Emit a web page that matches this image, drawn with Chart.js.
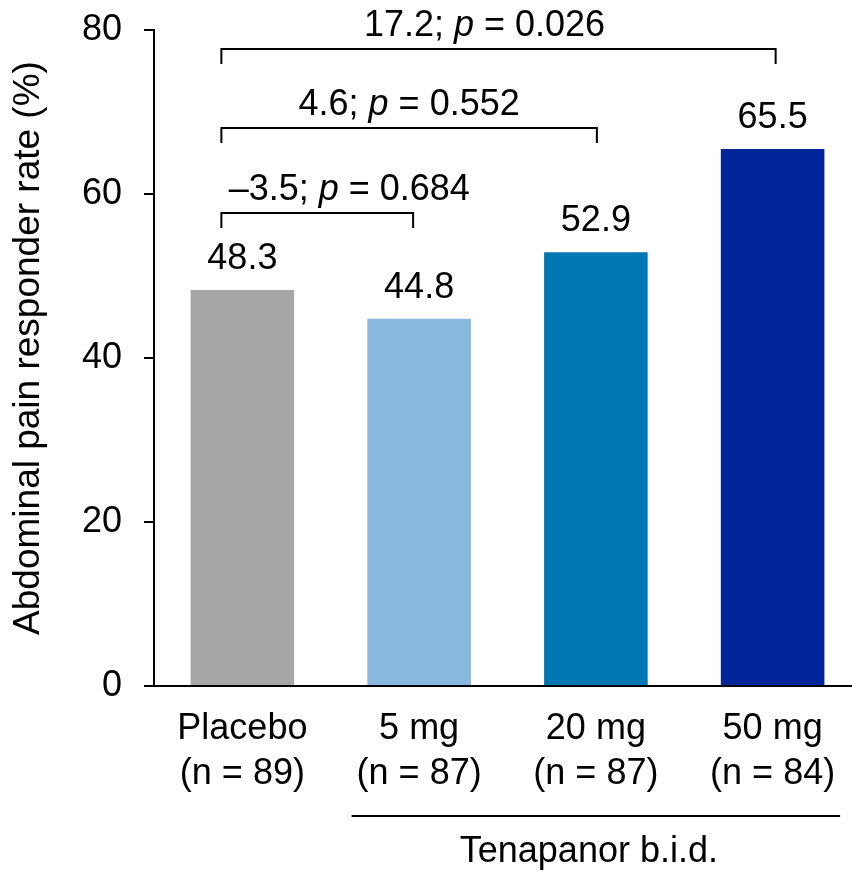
<!DOCTYPE html>
<html>
<head>
<meta charset="utf-8">
<script src="https://cdn.jsdelivr.net/npm/chart.js@4/dist/chart.umd.min.js"></script>
<style>
  body { margin: 0; background: #fff; }
  #wrap { width: 852px; height: 873px; overflow: hidden; }
</style>
</head>
<body>
<div id="wrap"><canvas id="chart" width="862" height="873"></canvas></div>
<script>
// Chart data
const doses = ['Placebo', '5 mg', '20 mg', '50 mg'];
const sampleSizes = [89, 87, 87, 84];
const responderRates = [48.3, 44.8, 52.9, 65.5];
const barColors = ['#A6A6A6', '#89B8E0', '#0077B3', '#00259A'];
const yTicks = [0, 20, 40, 60, 80];
const yTitle = 'Abdominal pain responder rate (%)';

// Pairwise comparisons vs placebo
const compareFrom = [0, 0, 0];
const compareTo = [1, 2, 3];
const compareDiff = ['–3.5', '4.6', '17.2'];
const compareP = ['0.684', '0.552', '0.026'];

// Group label under the active doses
const groupLabel = 'Tenapanor b.i.d.';
const groupFrom = 1;
const groupTo = 3;

const FONT = '"Liberation Sans", Arial, sans-serif';
const labels = doses.map((d, i) => [d, '(n = ' + sampleSizes[i] + ')']);

// Draw text made of normal / italic runs, centred on x
function drawRuns(ctx, runs, cx, y) {
  let total = 0;
  runs.forEach(r => {
    ctx.font = (r.italic ? 'italic ' : '') + '36px ' + FONT;
    r.w = ctx.measureText(r.text).width;
    total += r.w;
  });
  let x = cx - total / 2;
  runs.forEach(r => {
    ctx.font = (r.italic ? 'italic ' : '') + '36px ' + FONT;
    ctx.fillText(r.text, x, y);
    x += r.w;
  });
}

const annotations = {
  id: 'annotations',
  afterDatasetsDraw(chart) {
    const ctx = chart.ctx;
    const xs = chart.scales.x;
    const ys = chart.scales.y;
    ctx.save();
    ctx.fillStyle = '#000';
    ctx.strokeStyle = '#000';
    ctx.lineWidth = 2;
    ctx.textBaseline = 'alphabetic';

    // y axis title
    ctx.save();
    ctx.translate(28.5, 348);
    ctx.rotate(-Math.PI / 2);
    ctx.textAlign = 'center';
    ctx.textBaseline = 'middle';
    ctx.font = '37px ' + FONT;
    ctx.fillText(yTitle, 0, 0);
    ctx.restore();

    // value labels above bars
    ctx.textAlign = 'center';
    ctx.font = '36px ' + FONT;
    responderRates.forEach((v, i) => {
      ctx.fillText(v.toFixed(1), xs.getPixelForValue(i), ys.getPixelForValue(v) - 21);
    });
    ctx.textAlign = 'left';

    // comparison brackets
    const levels = [57.7, 68.0, 77.7];
    const rightShift = [-6, 1, 3];
    const textShift = [32, 0, -14];
    compareFrom.forEach((f, k) => {
      const x1 = xs.getPixelForValue(f) - 21;
      const x2 = xs.getPixelForValue(compareTo[k]) + rightShift[k];
      const y = Math.round(ys.getPixelForValue(levels[k]));
      ctx.beginPath();
      ctx.moveTo(x1, y + 15);
      ctx.lineTo(x1, y);
      ctx.lineTo(x2, y);
      ctx.lineTo(x2, y + 15);
      ctx.stroke();
      drawRuns(ctx, [
        { text: compareDiff[k] + '; ', italic: false },
        { text: 'p', italic: true },
        { text: ' = ' + compareP[k], italic: false }
      ], (x1 + x2) / 2 + textShift[k], y - 13);
    });

    // group line and label below the axis
    const gx1 = xs.getPixelForValue(groupFrom) - 67.5;
    const gx2 = xs.getPixelForValue(groupTo) + 67.5;
    ctx.beginPath();
    ctx.moveTo(gx1, 816);
    ctx.lineTo(gx2, 816);
    ctx.stroke();
    ctx.textAlign = 'center';
    ctx.font = '36px ' + FONT;
    ctx.fillText(groupLabel, (gx1 + gx2) / 2 - 7, 862);
    ctx.restore();
  }
};

new Chart(document.getElementById('chart'), {
  type: 'bar',
  data: {
    labels: labels,
    datasets: [{
      data: responderRates,
      backgroundColor: barColors,
      barPercentage: 0.586,
      categoryPercentage: 1
    }]
  },
  options: {
    responsive: false,
    animation: false,
    layout: { padding: { top: 30, right: 1, left: 0, bottom: 0 } },
    plugins: {
      legend: { display: false },
      tooltip: { enabled: false }
    },
    scales: {
      x: {
        afterFit: s => { s.height = 187; s.paddingLeft = 0; s.paddingRight = 0; },
        grid: { display: true, drawOnChartArea: false, drawTicks: false },
        border: { display: true, color: '#000', width: 2 },
        ticks: {
          color: '#000',
          padding: 21,
          font: { family: FONT, size: 36, lineHeight: 1.25 }
        }
      },
      y: {
        min: 0,
        max: 80,
        afterFit: s => { s.width = 154; s.paddingTop = 0; s.paddingBottom = 0; },
        afterBuildTicks: s => { s.ticks = yTicks.map(v => ({ value: v })); },
        grid: { drawOnChartArea: false, drawTicks: true, tickLength: 10, color: '#000', lineWidth: 2 },
        border: { display: true, color: '#000', width: 2 },
        ticks: {
          color: '#000',
          padding: 22,
          font: { family: FONT, size: 36, lineHeight: 0.5 }
        }
      }
    }
  },
  plugins: [annotations]
});
</script>
</body>
</html>
